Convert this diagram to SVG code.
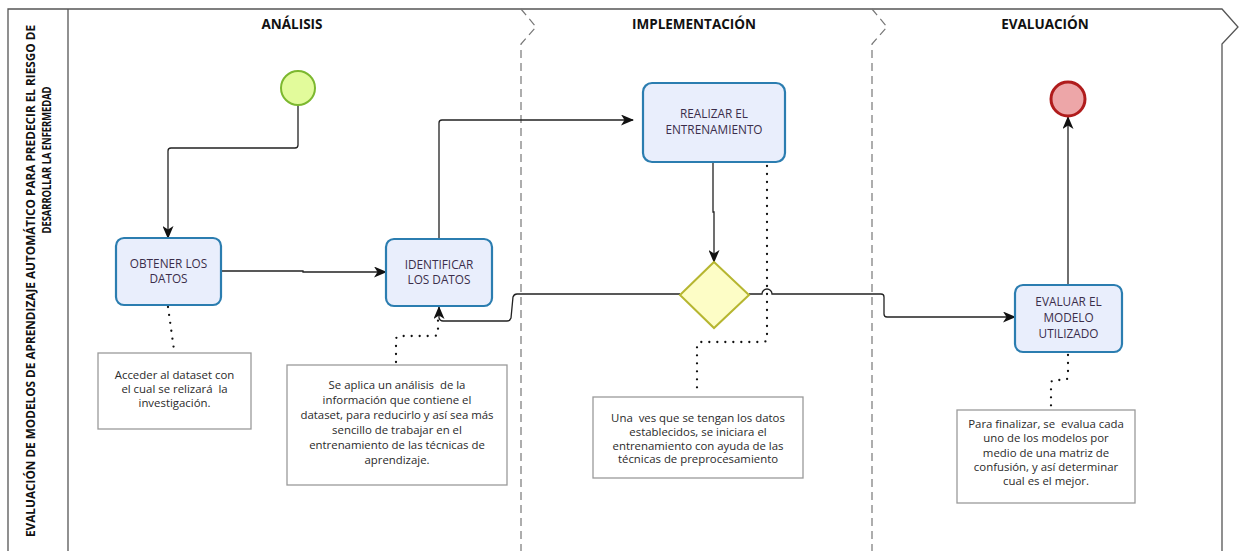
<svg xmlns="http://www.w3.org/2000/svg" width="1242" height="551" viewBox="0 0 1242 551">
<style>
.frame{fill:none;stroke:#555;stroke-width:1.3}
.lane{fill:none;stroke:#777;stroke-width:1.2;stroke-dasharray:8 5}
.hdr{font-family:"Open Sans","Liberation Sans",sans-serif;font-weight:bold;font-size:13.5px;fill:#111;text-anchor:middle}
.ttl{font-family:"Open Sans","Liberation Sans",sans-serif;font-weight:bold;font-size:12px;fill:#111;text-anchor:middle}
.task{fill:#e9eefc;stroke:#2b7db0;stroke-width:2.2}
.tt{font-family:"Open Sans","Liberation Sans",sans-serif;font-size:11.8px;fill:#3a2d4a;text-anchor:middle}
.ann{fill:#fff;stroke:#9a9a9a;stroke-width:1.3}
.at{font-family:"Open Sans","Liberation Sans",sans-serif;font-size:11.4px;fill:#2a2a2a;text-anchor:middle;white-space:pre}
.flow{fill:none;stroke:#222;stroke-width:1.3}
.dot{fill:none;stroke:#111;stroke-width:2.3;stroke-dasharray:0 8;stroke-linecap:round}
</style>
<defs>
<marker id="arr" markerWidth="13" markerHeight="11" refX="12" refY="5.5" orient="auto" markerUnits="userSpaceOnUse">
<path d="M0,0 L13,5.5 L0,11 L3.5,5.5 Z" fill="#111"/>
</marker>
</defs>
<rect width="1242" height="551" fill="#fff"/>
<g id="pool">
<path class="frame" d="M8,551 V9 H1222 L1238,27 L1222,44 V551"/>
<line class="frame" x1="68" y1="9" x2="68" y2="551"/>
<path class="lane" d="M521,9 L536,27 L521,44 V551"/>
<path class="lane" d="M872,9 L887,27 L872,44 V551"/>
<text class="ttl" transform="translate(35,281) rotate(-90)" textLength="512" lengthAdjust="spacingAndGlyphs">EVALUACIÓN DE MODELOS DE APRENDIZAJE AUTOMÁTICO PARA PREDECIR EL RIESGO DE</text>
<text class="ttl" transform="translate(51,160) rotate(-90)" textLength="147" lengthAdjust="spacingAndGlyphs">DESARROLLAR LA ENFERMEDAD</text>
<text class="hdr" x="292" y="29">ANÁLISIS</text>
<text class="hdr" x="694" y="29">IMPLEMENTACIÓN</text>
<text class="hdr" x="1045" y="29">EVALUACIÓN</text>
</g>
<g id="connectors">
<path class="flow" marker-end="url(#arr)" d="M298,105 V145 q0,3 -3,3 H171 q-3,0 -3,3 V238"/>
<path class="flow" marker-end="url(#arr)" d="M221,271 H303 V272 H386"/>
<path class="flow" marker-end="url(#arr)" d="M439,239 V123 q0,-3 3,-3 H633"/>
<path class="flow" marker-end="url(#arr)" d="M713,162 V212 H714 V262"/>
<path class="flow" marker-end="url(#arr)" d="M680,294 H517 q-3,0 -4,3 L511,318 q-1,3 -4,3 H443 q-3,0 -4,-3 V307"/>
<path class="flow" marker-end="url(#arr)" d="M749,294 H762 a5,5 0 0 1 10,0 H881 q3,0 3,3 V314 q0,3 3,3 H1015"/>
<path class="flow" marker-end="url(#arr)" d="M1068,285 V117"/>
<path class="dot" d="M168,307 L174,350"/>
<path class="dot" d="M396,362 V340 q0,-4 4,-4 H434 q4,0 4,-4 V316"/>
<path class="dot" d="M767,166 V338 q0,4 -4,4 H701 q-4,0 -4,4 V395"/>
<path class="dot" d="M1068,355 V376 q0,4 -4,4 H1055 q-4,0 -4,4 V408"/>
</g>
<g id="start"><circle cx="298" cy="88" r="17" fill="#e2fb9b" stroke="#7cb82f" stroke-width="2"/></g>
<g id="end"><circle cx="1068" cy="99" r="17" fill="#eda6a8" stroke="#b01c1c" stroke-width="3"/></g>
<g id="obtener">
<rect class="task" x="116" y="238" width="105" height="67" rx="8"/>
<text class="tt" x="168.5" y="268">OBTENER LOS</text>
<text class="tt" x="168.5" y="283">DATOS</text>
</g>
<g id="identificar">
<rect class="task" x="386" y="239" width="106" height="67" rx="8"/>
<text class="tt" x="439" y="269">IDENTIFICAR</text>
<text class="tt" x="439" y="284">LOS DATOS</text>
</g>
<g id="realizar">
<rect class="task" x="643" y="83" width="142" height="79" rx="9"/>
<text class="tt" x="714" y="118">REALIZAR EL</text>
<text class="tt" x="714" y="134">ENTRENAMIENTO</text>
</g>
<g id="gateway">
<polygon points="714,262 749,295 714,328 680,295" fill="#fdfdc6" stroke="#b6b630" stroke-width="2"/>
</g>
<g id="evaluar">
<rect class="task" x="1015" y="285" width="107" height="67" rx="8"/>
<text class="tt" x="1068.5" y="306">EVALUAR EL</text>
<text class="tt" x="1068.5" y="322">MODELO</text>
<text class="tt" x="1068.5" y="338">UTILIZADO</text>
</g>
<g id="ann1">
<rect class="ann" x="98" y="353" width="153" height="76"/>
<text class="at" x="174.5" y="379">Acceder al dataset con</text>
<text class="at" x="174.5" y="393">el cual se relizará  la</text>
<text class="at" x="174.5" y="407">investigación.</text>
</g>
<g id="ann2">
<rect class="ann" x="287" y="365" width="220" height="120"/>
<text class="at" x="397" y="389">Se aplica un análisis  de la</text>
<text class="at" x="397" y="404">información que contiene el</text>
<text class="at" x="397" y="419">dataset, para reducirlo y así sea más</text>
<text class="at" x="397" y="434">sencillo de trabajar en el</text>
<text class="at" x="397" y="449">entrenamiento de las técnicas de</text>
<text class="at" x="397" y="464">aprendizaje.</text>
</g>
<g id="ann3">
<rect class="ann" x="593" y="397" width="210" height="81"/>
<text class="at" x="698" y="422">Una  ves que se tengan los datos</text>
<text class="at" x="698" y="436">establecidos, se iniciara el</text>
<text class="at" x="698" y="450">entrenamiento con ayuda de las</text>
<text class="at" x="698" y="463">técnicas de preprocesamiento</text>
</g>
<g id="ann4">
<rect class="ann" x="957" y="410" width="178" height="93"/>
<text class="at" x="1046" y="428">Para finalizar, se  evalua cada</text>
<text class="at" x="1046" y="442">uno de los modelos por</text>
<text class="at" x="1046" y="457">medio de una matriz de</text>
<text class="at" x="1046" y="471">confusión, y así determinar</text>
<text class="at" x="1046" y="485">cual es el mejor.</text>
</g>
</svg>
